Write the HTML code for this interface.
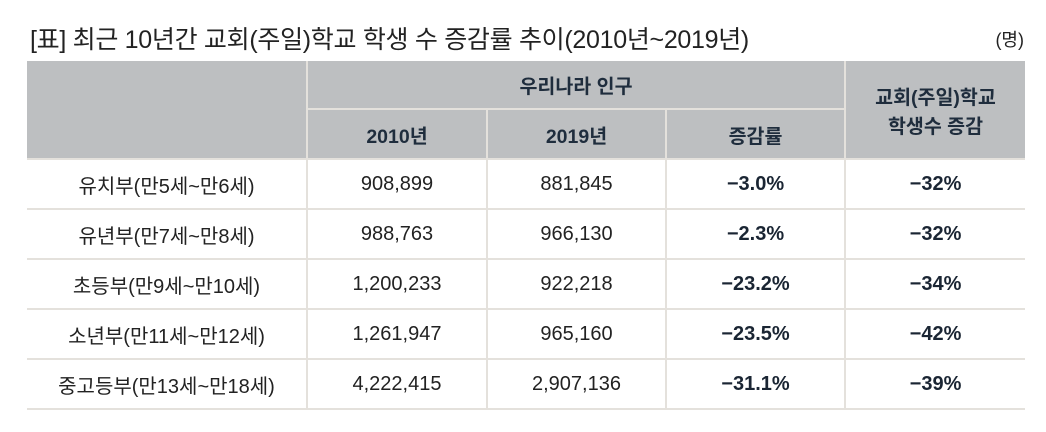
<!DOCTYPE html>
<html><head><meta charset="utf-8"><style>
body{margin:0;background:#fff;width:1046px;height:432px;overflow:hidden;font-family:"Liberation Sans","Noto Sans CJK KR",sans-serif;color:#222;}
.title{position:absolute;left:30px;top:20px;font-size:25px;letter-spacing:-0.3px;}
.unit{position:absolute;right:22px;top:26px;font-size:18px;}
table{position:absolute;left:27px;top:61px;border-collapse:collapse;table-layout:fixed;}
td,th{border:2px solid #e4e1dc;text-align:center;padding:0;font-size:20px;}
td.l{font-size:20px}
th{background:#bdbfc1;color:#1f2d3d;font-weight:bold;font-size:19.5px;}
tr.r1 th{height:47px}
tr.r2 th{height:48px}
td{height:48px;}
td.b{font-weight:bold;color:#1a2533}
table tr>*:first-child{border-left:none}
table tr>*:last-child{border-right:none}
table tr:first-child>*{border-top:none}
</style></head><body>
<div class="title">[표] 최근 10년간 교회(주일)학교 학생 수 증감률 추이(2010년~2019년)</div>
<div class="unit">(명)</div>
<table>
<colgroup><col style="width:280px"><col style="width:180px"><col style="width:179px"><col style="width:179px"><col style="width:180px"></colgroup>
<tr class="r1"><th rowspan="2"></th><th colspan="3">우리나라 인구</th><th rowspan="2">교회(주일)학교<br>학생수 증감</th></tr>
<tr class="r2"><th>2010년</th><th>2019년</th><th>증감률</th></tr>
<tr><td class="l">유치부(만5세~만6세)</td><td>908,899</td><td>881,845</td><td class="b">−3.0%</td><td class="b">−32%</td></tr>
<tr><td class="l">유년부(만7세~만8세)</td><td>988,763</td><td>966,130</td><td class="b">−2.3%</td><td class="b">−32%</td></tr>
<tr><td class="l">초등부(만9세~만10세)</td><td>1,200,233</td><td>922,218</td><td class="b">−23.2%</td><td class="b">−34%</td></tr>
<tr><td class="l">소년부(만11세~만12세)</td><td>1,261,947</td><td>965,160</td><td class="b">−23.5%</td><td class="b">−42%</td></tr>
<tr><td class="l">중고등부(만13세~만18세)</td><td>4,222,415</td><td>2,907,136</td><td class="b">−31.1%</td><td class="b">−39%</td></tr>
</table>
</body></html>
